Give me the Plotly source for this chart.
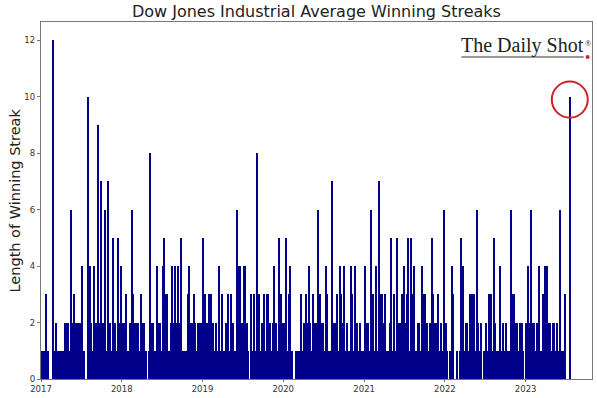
import datetime as dt
import plotly.graph_objects as go

# Weekly maximum winning-streak length (trading days).
streak_2017 = [1, 1, 1, 3, 1, 0, 0, 12, 1, 2, 1, 1, 1, 1, 1, 2, 2, 2, 1, 6, 2, 3, 2, 2, 2, 2,
               4, 1, 0, 0, 10, 4, 2, 1, 4, 2, 9, 2, 7, 2, 2, 6, 1, 7, 2, 1, 5, 2, 1, 5, 2, 4]
streak_2018 = [2, 2, 3, 1, 1, 2, 6, 3, 2, 2, 2, 1, 3, 2, 2, 1, 0, 1, 8, 2, 2, 1, 4, 2, 2, 1,
               4, 5, 3, 3, 1, 2, 4, 2, 4, 2, 4, 2, 5, 1, 1, 1, 3, 4, 2, 2, 3, 2, 1, 2, 2, 2]
streak_2019 = [5, 3, 2, 2, 3, 3, 2, 1, 2, 1, 4, 1, 3, 1, 1, 2, 3, 1, 3, 2, 1, 1, 6, 4, 4, 2,
               4, 4, 2, 1, 0, 3, 1, 3, 1, 8, 3, 1, 2, 3, 1, 3, 3, 2, 1, 2, 4, 2, 1, 5, 3, 2]
streak_2020 = [2, 5, 1, 3, 4, 1, 0, 0, 1, 1, 1, 3, 1, 2, 3, 2, 4, 2, 1, 3, 2, 2, 6, 3, 2, 2,
               1, 4, 3, 1, 1, 7, 2, 2, 3, 1, 4, 3, 2, 4, 1, 2, 1, 4, 3, 1, 4, 2, 1, 2, 1, 1]
streak_2021 = [4, 2, 2, 1, 6, 3, 1, 4, 1, 7, 3, 3, 2, 3, 1, 1, 2, 5, 1, 3, 1, 5, 2, 2, 3, 4,
               2, 3, 5, 1, 5, 3, 4, 1, 2, 2, 1, 4, 3, 3, 2, 1, 2, 5, 3, 2, 2, 3, 1, 2, 1, 6]
streak_2022 = [2, 1, 0, 1, 4, 3, 0, 1, 0, 1, 5, 4, 1, 2, 2, 1, 3, 3, 3, 1, 6, 2, 1, 2, 0, 1,
               2, 1, 3, 3, 1, 5, 2, 1, 1, 4, 1, 2, 1, 2, 1, 1, 6, 3, 3, 2, 2, 1, 2, 2, 1, 0]
streak_2023 = [2, 4, 2, 6, 2, 2, 1, 2, 4, 1, 1, 3, 4, 4, 2, 2, 1, 2, 2, 1, 2, 1, 6, 1, 1, 3,
               0, 0, 10]

years = [2017, 2018, 2019, 2020, 2021, 2022, 2023]
series = [streak_2017, streak_2018, streak_2019, streak_2020, streak_2021, streak_2022, streak_2023]
tick_labels = [str(y) for y in years]

x_dates, y_vals = [], []
for yr, vals in zip(years, series):
    start = dt.datetime(yr, 1, 1)
    for w, v in enumerate(vals):
        x_dates.append(start + dt.timedelta(days=7 * w + 3.5))
        y_vals.append(v)

last_date = x_dates[-1]
last_val = y_vals[-1]

fig = go.Figure()
fig.add_trace(go.Bar(
    x=x_dates, y=y_vals,
    width=4.5 * 86400000,
    marker=dict(color="rgb(0,0,139)", line=dict(width=0)),
    hoverinfo="skip",
))

fig.update_layout(
    width=597, height=398,
    margin=dict(l=41, r=4, t=22, b=16),
    paper_bgcolor="white", plot_bgcolor="white",
    showlegend=False,
    bargap=0,
    font=dict(family="DejaVu Sans", color="#222"),
    title=dict(text="Dow Jones Industrial Average Winning Streaks",
               x=0.53, xanchor="center", y=0.972, yanchor="middle",
               font=dict(size=16, color="#222", family="DejaVu Sans")),
)

fig.update_xaxes(
    type="date",
    range=[dt.datetime(2017, 1, 1), dt.datetime(2023, 10, 28)],
    tickvals=[dt.datetime(y, 1, 1) for y in years],
    ticktext=tick_labels,
    ticks="outside", ticklen=2, tickcolor="#777", tickwidth=1,
    tickfont=dict(size=8.5, color="#333"),
    showline=True, linecolor="#777", linewidth=1.3, mirror=True,
    showgrid=False, zeroline=False,
)
fig.update_yaxes(
    range=[0, 12.65],
    tickvals=[0, 2, 4, 6, 8, 10, 12],
    ticks="outside", ticklen=3, tickcolor="#777", tickwidth=1,
    tickfont=dict(size=8.5, color="#333"),
    showline=True, linecolor="#777", linewidth=1.3, mirror=True,
    showgrid=False, zeroline=False,
)

# Y-axis title
fig.add_annotation(text="Length of Winning Streak", xref="paper", yref="paper",
                   x=0, y=0.5, xshift=-27, textangle=-90, showarrow=False,
                   xanchor="center", yanchor="middle",
                   font=dict(size=14.5, color="#222", family="DejaVu Sans"))

# Logo
fig.add_annotation(text="The Daily Shot", xref="paper", yref="paper",
                   x=0.873, y=0.935, showarrow=False, xanchor="center", yanchor="middle",
                   font=dict(size=20, color="#222", family="Liberation Serif"))
fig.add_annotation(text="®", xref="paper", yref="paper",
                   x=0.993, y=0.94, showarrow=False, xanchor="center", yanchor="middle",
                   font=dict(size=8, color="#222", family="Liberation Serif"))
fig.add_shape(type="line", xref="paper", yref="paper", x0=0.763, x1=0.985,
              y0=0.902, y1=0.902, line=dict(color="#333", width=1.2))
fig.add_shape(type="circle", xref="paper", yref="paper", xsizemode="pixel", ysizemode="pixel",
              xanchor=0.992, yanchor=0.902, x0=-2, x1=2, y0=-2, y1=2,
              fillcolor="#d0202a", line=dict(color="#d0202a", width=0))

# Highlight circle around latest streak
fig.add_shape(type="circle", xref="x", yref="y", xsizemode="pixel", ysizemode="pixel",
              xanchor=last_date, yanchor=last_val - 0.1, x0=-18, x1=18, y0=-18, y1=18,
              line=dict(color="#cc2229", width=2))

# remove the default 8px page margin so the figure sits at the top-left corner
fig.write_html("out.html", config={"displayModeBar": False},
               post_script="document.body.style.margin='0';")
